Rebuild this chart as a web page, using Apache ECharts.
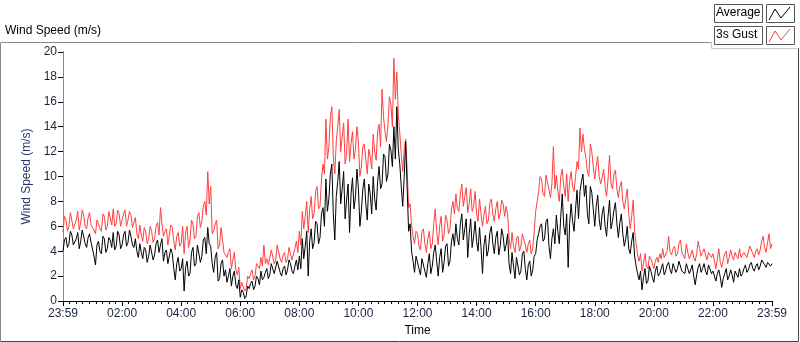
<!DOCTYPE html>
<html>
<head>
<meta charset="utf-8">
<script src="https://cdn.jsdelivr.net/npm/echarts@6/dist/echarts.min.js"></script>
<style>
  html, body { margin: 0; background: #fff; }
  #chart { width: 800px; height: 342px; }
</style>
</head>
<body>
<div id="chart"></div>
<script>
// samples every 3 minutes, one row per hour, from 23:59 to 23:59
const stepHours = 0.05
const avgSpeed = [
  4.0, 4.9, 5.1, 4.3, 4.6, 5.6, 5.3, 4.5, 4.4, 5.0, 5.5, 4.2, 4.8, 5.7, 5.2, 4.6, 4.3, 5.1, 5.4, 4.7,
  4.6, 3.6, 2.9, 4.5, 4.8, 4.0, 3.8, 5.2, 5.0, 3.9, 4.2, 5.1, 4.9, 4.3, 5.5, 4.1, 4.4, 5.6, 5.3, 4.2,
  4.5, 5.3, 5.6, 4.4, 4.7, 5.7, 5.2, 4.5, 4.3, 5.0, 4.0, 3.5, 4.6, 3.9, 3.4, 4.3, 4.1, 3.1, 3.6, 4.5,
  4.4, 3.3, 3.7, 4.6, 4.9, 3.9, 4.5, 5.0, 3.2, 3.9, 4.1, 3.0, 2.9, 4.2, 3.8, 2.6, 1.7, 3.0, 3.5, 2.4,
  2.6, 3.4, 0.8, 2.7, 3.2, 2.0, 2.2, 3.9, 4.3, 2.8, 3.0, 4.5, 4.6, 3.1, 3.6, 4.9, 5.1, 3.8, 5.9, 4.6,
  4.4, 3.0, 2.3, 3.5, 3.9, 1.6, 1.8, 3.0, 3.3, 2.0, 2.5, 1.5, 2.0, 2.6, 1.2, 2.0, 2.4, 1.3, 1.0, 1.7,
  0.3, 0.9, 0.7, 0.2, 0.4, 1.2, 1.0, 1.4, 1.6, 0.9, 1.2, 2.0, 1.8, 1.3, 2.4, 1.7, 1.9, 2.3, 2.6, 1.8,
  2.1, 3.0, 2.9, 2.2, 2.3, 3.2, 3.1, 2.3, 2.0, 2.6, 2.8, 2.1, 2.5, 3.3, 3.0, 2.4, 2.2, 2.8, 3.3, 2.5,
  3.6, 2.6, 5.0, 3.4, 4.4, 5.6, 2.0, 4.8, 5.8, 4.2, 4.7, 6.4, 6.2, 4.6, 5.1, 7.0, 7.5, 6.0, 9.8, 7.2,
  8.2, 10.2, 11.0, 7.0, 4.9, 8.4, 9.6, 11.2, 7.8, 9.0, 10.4, 6.6, 8.1, 9.4, 5.5, 8.6, 9.9, 7.4, 8.4, 10.6,
  9.0, 6.0, 7.2, 9.0, 9.8, 7.8, 6.5, 9.4, 8.6, 7.0, 10.0, 8.2, 7.3, 9.6, 10.8, 9.0, 9.4, 11.8, 11.6, 9.6,
  10.2, 12.6, 12.1, 10.8, 14.0, 11.4, 15.6, 12.2, 11.0, 9.2, 7.6, 10.0, 12.8, 9.0, 5.6, 6.2, 4.0, 3.2, 2.3, 3.6,
  3.7, 2.6, 2.1, 3.4, 3.3, 2.4, 1.9, 3.0, 3.8, 2.2, 2.8, 3.9, 4.5, 3.2, 2.0, 3.5, 4.2, 2.3, 3.1, 4.4,
  4.6, 2.8, 3.2, 4.8, 5.4, 4.4, 6.2, 5.0, 4.5, 6.2, 7.0, 4.9, 5.8, 6.6, 3.5, 5.4, 6.6, 4.3, 5.2, 6.4,
  4.8, 4.0, 5.9, 4.3, 2.2, 4.5, 5.3, 3.6, 4.1, 5.5, 6.0, 4.6, 3.8, 5.1, 5.6, 3.7, 4.4, 5.8, 5.2, 4.0,
  4.5, 5.4, 3.0, 2.2, 3.9, 2.8, 1.8, 3.5, 3.4, 2.1, 2.4, 3.8, 4.0, 2.6, 1.7, 2.9, 3.2, 2.0, 2.5, 3.6,
  3.8, 4.9, 5.4, 6.0, 6.2, 4.8, 5.0, 6.4, 6.6, 4.4, 3.4, 5.0, 5.8, 4.6, 6.9, 5.6, 4.6, 6.8, 8.6, 6.0,
  5.3, 7.0, 2.7, 6.2, 7.8, 6.4, 5.6, 7.4, 8.9, 6.6, 8.8, 9.6, 10.2, 8.4, 9.3, 7.0, 6.2, 9.2, 8.7, 7.4,
  6.0, 7.6, 8.5, 6.6, 5.7, 7.0, 7.6, 6.0, 5.2, 6.8, 8.1, 5.8, 6.4, 7.3, 7.9, 6.2, 5.1, 6.3, 7.0, 5.4,
  4.4, 5.0, 6.0, 4.2, 3.8, 4.8, 5.5, 3.6, 2.8, 2.2, 1.7, 2.4, 0.9, 1.9, 2.6, 1.4, 1.6, 2.8, 2.4, 1.9,
  1.5, 2.4, 2.8, 2.0, 2.2, 2.6, 3.0, 2.1, 2.4, 2.9, 3.1, 2.5, 2.2, 3.0, 2.9, 2.3, 2.6, 3.2, 3.1, 2.4,
  2.5, 2.2, 3.0, 2.6, 2.2, 2.5, 2.9, 2.0, 1.3, 2.1, 2.7, 3.0, 2.3, 2.6, 3.0, 2.4, 2.1, 2.9, 2.8, 2.2,
  2.4, 2.0, 1.6, 2.2, 2.5, 1.9, 1.1, 1.8, 2.2, 2.6, 1.7, 2.0, 2.5, 2.1, 1.5, 2.4, 2.3, 1.9, 2.6, 2.0,
  2.2, 2.6, 2.9, 2.3, 2.5, 2.9, 3.1, 2.6, 2.4, 2.8, 3.0, 2.5, 2.8, 3.3, 3.4, 2.9, 2.7, 3.1, 3.2, 2.8,
  3.0
]
const gustSpeed = [
  5.5, 6.8, 6.6, 5.6, 6.0, 7.1, 7.0, 5.8, 5.9, 6.5, 7.2, 5.7, 6.3, 7.3, 6.9, 6.0, 5.8, 6.7, 7.1, 6.1,
  6.2, 5.7, 5.4, 6.5, 6.6, 5.8, 5.6, 7.0, 6.8, 5.7, 6.0, 7.2, 7.1, 6.1, 7.4, 6.0, 6.2, 7.3, 7.0, 6.0,
  6.1, 7.0, 7.3, 6.0, 6.5, 7.2, 6.9, 5.9, 6.0, 6.7, 5.4, 5.0, 6.1, 5.3, 4.8, 5.9, 5.6, 4.6, 5.0, 6.0,
  5.6, 4.7, 5.0, 6.0, 6.3, 5.3, 7.5, 6.2, 5.2, 5.6, 5.8, 4.5, 4.6, 6.1, 5.9, 4.8, 4.1, 5.2, 5.5, 4.4,
  4.6, 6.0, 3.8, 5.5, 6.0, 4.3, 4.9, 6.5, 6.2, 5.0, 5.2, 6.8, 7.1, 5.9, 6.4, 7.6, 8.0, 6.9, 10.4, 7.8,
  9.2, 5.4, 5.6, 6.2, 6.5, 4.2, 4.5, 5.9, 5.8, 3.9, 4.0, 3.5, 3.9, 4.2, 2.6, 3.3, 3.9, 2.5, 2.1, 2.7,
  1.0, 1.5, 1.4, 0.8, 1.0, 2.0, 1.8, 2.2, 2.5, 1.7, 2.0, 3.0, 2.9, 2.6, 3.5, 2.8, 4.5, 3.0, 3.4, 2.9,
  3.0, 4.1, 4.2, 3.0, 3.3, 4.5, 4.4, 3.4, 3.1, 3.7, 3.9, 3.1, 3.4, 4.3, 3.8, 3.3, 3.2, 4.2, 4.8, 3.9,
  5.6, 4.5, 7.2, 5.8, 6.8, 8.0, 5.5, 7.4, 8.4, 6.6, 7.0, 8.8, 9.2, 7.4, 7.6, 9.8, 11.0, 10.2, 14.6, 11.4,
  12.4, 14.8, 15.6, 11.6, 10.2, 12.8, 14.0, 15.4, 12.0, 13.2, 14.3, 11.0, 11.8, 14.6, 11.2, 12.6, 13.6, 11.4, 12.2, 14.0,
  12.8, 10.0, 10.8, 12.4, 12.6, 11.4, 10.2, 12.2, 11.6, 10.6, 13.4, 12.0, 11.3, 13.6, 14.2, 12.4, 17.0, 14.8, 13.6, 12.8,
  14.2, 16.4, 15.8, 14.0, 19.5, 16.2, 18.4, 15.0, 13.5, 11.8, 10.4, 12.2, 13.0, 10.6, 7.5, 7.8, 6.1, 5.2, 4.6, 5.6,
  5.4, 4.4, 4.1, 5.6, 5.8, 4.6, 3.9, 5.0, 5.6, 4.2, 4.6, 6.2, 7.4, 5.6, 4.5, 6.0, 6.8, 4.8, 5.3, 6.9,
  6.5, 5.4, 5.8, 7.4, 8.0, 7.0, 8.6, 7.4, 7.2, 8.6, 9.4, 7.6, 8.4, 9.1, 7.1, 7.8, 9.0, 7.2, 7.6, 8.8,
  7.0, 6.4, 8.2, 7.0, 6.0, 6.9, 7.6, 6.2, 6.5, 7.9, 8.2, 7.0, 6.4, 7.4, 8.0, 6.6, 7.0, 8.1, 7.8, 6.8,
  7.6, 7.0, 5.0, 4.2, 5.5, 4.4, 3.9, 5.0, 5.2, 4.0, 4.4, 5.4, 5.5, 4.5, 3.9, 4.6, 4.9, 3.8, 4.2, 5.6,
  7.2, 8.0, 8.8, 10.0, 9.8, 8.6, 8.4, 10.1, 10.2, 9.0, 8.3, 9.4, 12.4, 9.0, 10.1, 8.8, 8.0, 10.0, 10.6, 9.2,
  8.4, 10.2, 8.0, 9.6, 10.4, 9.2, 8.8, 10.0, 11.2, 10.6, 13.9, 12.0, 13.4, 12.2, 11.5, 10.4, 10.0, 12.6, 12.0, 10.8,
  9.8, 10.8, 11.6, 10.0, 9.4, 9.9, 10.6, 9.2, 8.4, 9.8, 11.7, 9.4, 9.0, 10.2, 10.5, 9.0, 8.3, 9.2, 9.6, 8.0,
  7.4, 8.2, 9.0, 7.0, 5.8, 6.8, 8.1, 5.6, 4.6, 3.7, 3.2, 3.8, 2.4, 3.0, 3.8, 2.8, 2.6, 3.6, 3.4, 3.0,
  2.6, 3.2, 3.5, 3.1, 3.8, 3.4, 4.2, 3.5, 3.6, 4.0, 5.2, 3.9, 3.7, 4.2, 4.4, 3.6, 3.8, 4.6, 4.9, 3.9,
  3.8, 3.4, 4.6, 3.9, 3.4, 3.7, 4.1, 3.5, 3.2, 3.8, 4.8, 4.2, 3.6, 3.9, 4.2, 3.7, 3.3, 3.9, 4.0, 3.5,
  3.8, 3.2, 2.6, 3.4, 4.2, 3.1, 2.7, 3.3, 3.8, 4.0, 3.0, 3.5, 4.1, 3.6, 3.3, 3.9, 3.6, 3.4, 4.2, 3.5,
  3.4, 3.9, 4.0, 3.5, 3.6, 4.4, 4.3, 3.8, 3.5, 4.0, 4.2, 3.7, 4.1, 4.8, 5.2, 4.3, 3.9, 4.7, 5.4, 4.2,
  4.6
]
const xTickLabels = ['23:59', '02:00', '04:00', '06:00', '08:00', '10:00', '12:00',
  '14:00', '16:00', '18:00', '20:00', '22:00', '23:59']

const chart = echarts.init(document.getElementById('chart'))
const font = 'Liberation Sans'
const toPairs = arr => arr.map((v, i) => [+(i * stepHours).toFixed(2), v])

const option = {
  animation: false,
  backgroundColor: '#fff',
  grid: { left: 63, top: 52, right: 28, bottom: 40 },
  xAxis: [{
    type: 'value', min: 0, max: 24, interval: 2,
    name: 'Time', nameLocation: 'middle', nameGap: 24,
    nameTextStyle: { color: '#000', fontFamily: font, fontSize: 12 },
    axisLine: { lineStyle: { color: '#8a8a8a' } },
    axisTick: { length: 5, lineStyle: { color: '#000' } },
    minorTick: { show: true, splitNumber: 9, length: 3, lineStyle: { color: '#000' } },
    axisLabel: {
      color: '#1c2440', fontFamily: font, fontSize: 12, margin: 7,
      formatter: v => xTickLabels[Math.round(v / 2)]
    },
    splitLine: { show: false }
  }, {
    type: 'value', min: 0, max: 24, position: 'top',
    axisLine: { show: true, lineStyle: { color: '#000' } },
    axisTick: { show: false }, axisLabel: { show: false }, splitLine: { show: false }
  }],
  yAxis: [{
    type: 'value', min: 0, max: 20, interval: 2,
    name: 'Wind Speed (m/s)', nameLocation: 'middle', nameGap: 20,
    nameTextStyle: { color: '#2a3570', fontFamily: font, fontSize: 12 },
    axisLine: { show: true, lineStyle: { color: '#000' } },
    axisTick: { show: true, length: 5, lineStyle: { color: '#000' } },
    axisLabel: { color: '#1c2440', fontFamily: font, fontSize: 12, margin: 6 },
    splitLine: { show: false }
  }, {
    type: 'value', min: 0, max: 20, position: 'right',
    axisLine: { show: true, lineStyle: { color: '#8a8a8a' } },
    axisTick: { show: false }, axisLabel: { show: false }, splitLine: { show: false }
  }],
  series: [{
    name: '3s Gust', type: 'line', data: toPairs(gustSpeed),
    showSymbol: false, z: 2,
    lineStyle: { color: '#ff4040', width: 1 }
  }, {
    name: 'Average', type: 'line', data: toPairs(avgSpeed),
    showSymbol: false, z: 3,
    lineStyle: { color: '#000', width: 1 }
  }],
  graphic: [
    // panel frame
    { type: 'polyline', shape: { points: [[0.5, 341.5], [0.5, 42.5], [712, 42.5]] }, style: { stroke: '#8a8a8a', lineWidth: 1, fill: null } },
    { type: 'polyline', shape: { points: [[0.5, 341.5], [798.5, 341.5], [798.5, 48]] }, style: { stroke: '#444', lineWidth: 1, fill: null } },
    { type: 'polyline', shape: { points: [[711.5, 42], [711.5, 48.5], [798.5, 48.5]] }, style: { stroke: '#c8c8c8', lineWidth: 1, fill: null } },
    { type: 'text', left: 5, top: 25, style: { text: 'Wind Speed (m/s)', fill: '#000', font: '12px ' + font } },
    // legend
    { type: 'rect', shape: { x: 714.5, y: 4.5, width: 48, height: 18 }, style: { fill: '#fff', stroke: '#555', lineWidth: 1 } },
    { type: 'text', left: 716, top: 7, style: { text: 'Average', fill: '#000', font: '12px ' + font } },
    { type: 'rect', shape: { x: 766.5, y: 4.5, width: 28, height: 18 }, style: { fill: '#fff', stroke: '#555', lineWidth: 1 } },
    { type: 'polyline', shape: { points: [[769, 20], [775, 9], [781, 18], [790, 7]] }, style: { stroke: '#000', lineWidth: 1, fill: null } },
    { type: 'rect', shape: { x: 714.5, y: 26.5, width: 48, height: 18 }, style: { fill: '#fff', stroke: '#555', lineWidth: 1 } },
    { type: 'text', left: 716, top: 29, style: { text: '3s Gust', fill: '#000', font: '12px ' + font } },
    { type: 'rect', shape: { x: 766.5, y: 26.5, width: 28, height: 18 }, style: { fill: '#fff', stroke: '#555', lineWidth: 1 } },
    { type: 'polyline', shape: { points: [[769, 42], [775, 31], [781, 40], [790, 29]] }, style: { stroke: '#ff4040', lineWidth: 1, fill: null } }
  ]
}
chart.setOption(option)
</script>
</body>
</html>
